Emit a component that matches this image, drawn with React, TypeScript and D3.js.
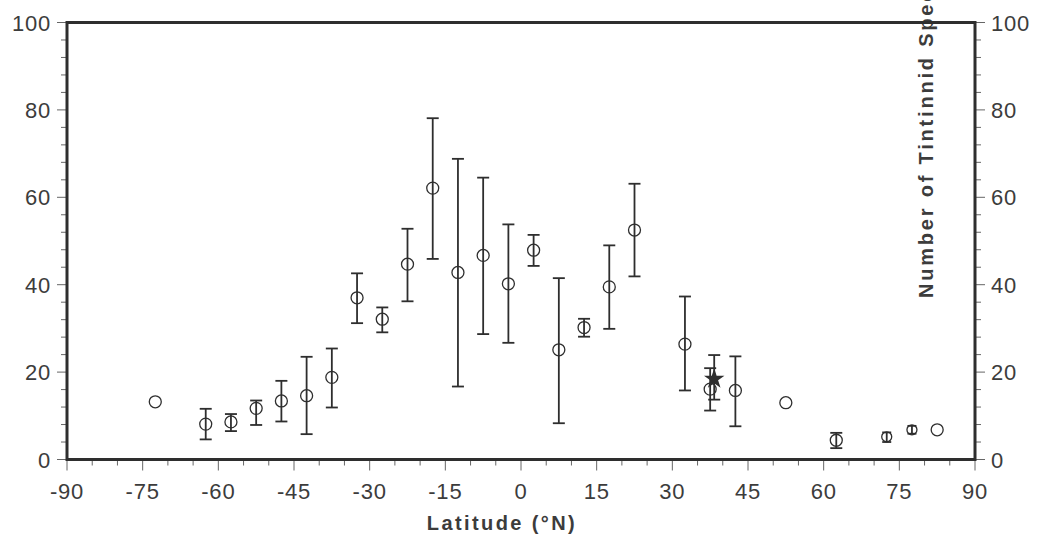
import React from "react";
import * as d3 from "d3";

// latitude, mean species count, upper and lower bar ends (null = no bar)
const lat = [-72.5, -62.5, -57.5, -52.5, -47.5, -42.5, -37.5, -32.5, -27.5, -22.5, -17.5, -12.5, -7.5, -2.5, 2.5, 7.5, 12.5, 17.5, 22.5, 32.5, 37.5, 42.5, 52.5, 62.5, 72.5, 77.5, 82.5];
const mean = [13.2, 8.1, 8.6, 11.7, 13.4, 14.6, 18.8, 37.0, 32.1, 44.7, 62.1, 42.8, 46.7, 40.2, 47.9, 25.1, 30.2, 39.5, 52.5, 26.4, 16.1, 15.8, 13.0, 4.4, 5.2, 6.8, 6.8];
const upper = [null, 11.6, 10.4, 13.5, 18.0, 23.5, 25.4, 42.6, 34.8, 52.8, 78.1, 68.8, 64.5, 53.8, 51.4, 41.5, 32.2, 49.0, 63.1, 37.3, 20.9, 23.6, null, 6.1, 6.2, 7.7, null];
const lower = [null, 4.6, 6.5, 7.9, 8.7, 5.8, 11.9, 31.2, 29.1, 36.2, 45.9, 16.7, 28.7, 26.7, 44.3, 8.3, 28.1, 29.9, 41.9, 15.8, 11.2, 7.6, null, 2.6, 4.0, 5.9, null];

// the single starred point
const starLat = 38.3;
const starMean = 18.4;
const starUpper = 23.9;
const starLower = 13.7;

const xTicks = d3.range(-90, 91, 15);
const yTicks = d3.range(0, 101, 20);

const W = 1050;
const H = 537;
const left = 67;
const right = 975;
const top = 22.5;
const bottom = 459.5;

const ink = "#2e2e2e";
const textCol = "#3c3c3c";
const font = "'Liberation Sans', Arial, sans-serif";

export default function App() {
  const x = d3.scaleLinear().domain([-90, 90]).range([left, right]);
  const y = d3.scaleLinear().domain([0, 100]).range([bottom, top]);

  const xMinor = d3.range(-90, 91, 5);
  const yMinor = d3.range(0, 101, 4);
  const star = d3.symbol(d3.symbolStar, 130)() as string;

  const bar = (cx: number, hi: number, lo: number, key: string, cap = 6) => (
    <g key={key} stroke={ink} strokeWidth={1.8}>
      <line x1={cx} x2={cx} y1={y(hi)} y2={y(lo)} />
      <line x1={cx - cap} x2={cx + cap} y1={y(hi)} y2={y(hi)} />
      <line x1={cx - cap} x2={cx + cap} y1={y(lo)} y2={y(lo)} />
    </g>
  );

  return (
    <svg
      width={W}
      height={H}
      style={{ position: "absolute", left: 0, top: 0, background: "#fff" }}
    >
      {/* right axis title, runs off the top like the original */}
      <text
        transform={`translate(933,298) rotate(-90)`}
        fontFamily={font}
        fontWeight="bold"
        fontSize={20}
        letterSpacing={2.8}
        fill={textCol}
      >
        Number of Tintinnid Species
      </text>

      {/* y ticks, both sides */}
      {yMinor.map((v) => {
        const major = v % 20 === 0;
        const len = major ? 10 : 6;
        return (
          <g key={"yt" + v} stroke="#666" strokeWidth={1}>
            <line x1={left - len} x2={left} y1={y(v)} y2={y(v)} />
            <line x1={right} x2={right + len} y1={y(v)} y2={y(v)} />
          </g>
        );
      })}
      {yTicks.map((v) => (
        <g key={"yl" + v} fontFamily={font} fontSize={22} fill={textCol}>
          <text x={51} y={y(v) + 8} textAnchor="end" letterSpacing={0.8}>
            {v}
          </text>
          <text x={991} y={y(v) + 8} textAnchor="start" letterSpacing={0.8}>
            {v}
          </text>
        </g>
      ))}

      {/* x ticks */}
      {xMinor.map((v) => {
        const len = v % 15 === 0 ? 11 : 6;
        return (
          <line
            key={"xt" + v}
            x1={x(v)}
            x2={x(v)}
            y1={bottom}
            y2={bottom + len}
            stroke="#666"
            strokeWidth={1}
          />
        );
      })}
      {xTicks.map((v) => (
        <text
          key={"xl" + v}
          x={x(v)}
          y={499}
          textAnchor="middle"
          fontFamily={font}
          fontSize={22}
          letterSpacing={0.8}
          fill={textCol}
        >
          {v}
        </text>
      ))}

      {/* frame */}
      <rect
        x={left}
        y={top}
        width={right - left}
        height={bottom - top}
        fill="none"
        stroke={ink}
        strokeWidth={3}
      />

      {/* error bars */}
      {lat.map((l, i) =>
        upper[i] != null && lower[i] != null
          ? bar(x(l), upper[i] as number, lower[i] as number, "b" + i, l > 70 ? 4.5 : 6)
          : null
      )}
      {bar(x(starLat), starUpper, starLower, "starbar")}

      {/* open circles */}
      {lat.map((l, i) => (
        <circle
          key={"c" + i}
          cx={x(l)}
          cy={y(mean[i])}
          r={l > 70 && l < 80 ? 5 : 6}
          fill="none"
          stroke={ink}
          strokeWidth={1.3}
        />
      ))}

      <path d={star} transform={`translate(${x(starLat)},${y(starMean)})`} fill={ink} />

      <text
        x={502}
        y={530}
        textAnchor="middle"
        fontFamily={font}
        fontWeight="bold"
        fontSize={20}
        letterSpacing={2.4}
        fill={textCol}
      >
        Latitude (°N)
      </text>
    </svg>
  );
}
